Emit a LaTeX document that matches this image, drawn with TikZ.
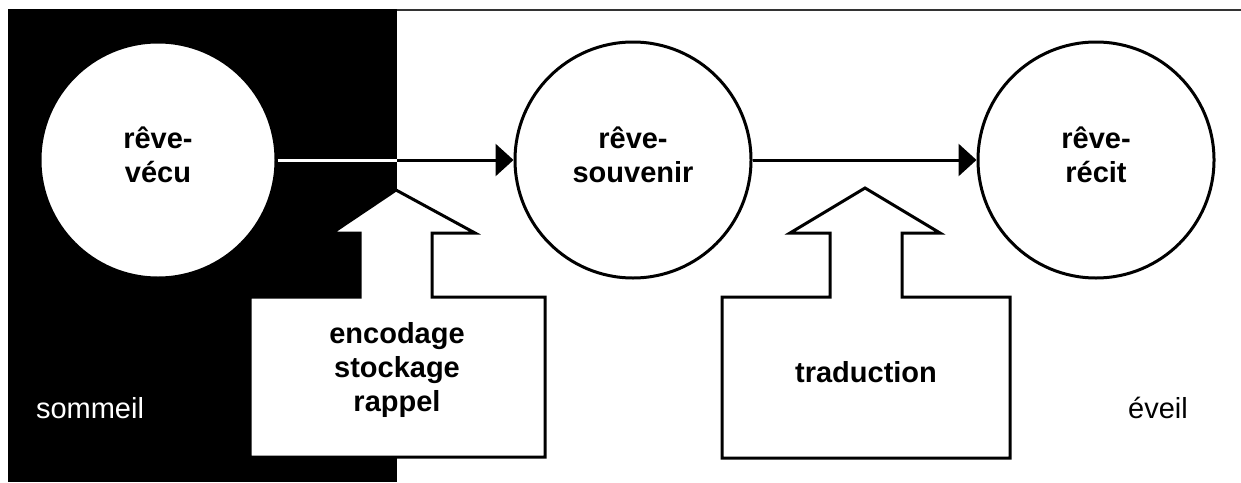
\documentclass[tikz,border=0pt]{standalone}
\usepackage{fontspec}
\setmainfont{Liberation Sans}
\usetikzlibrary{arrows.meta}
\begin{document}
\begin{tikzpicture}[x=1pt,y=-1pt,
  lbl/.style={font=\fontsize{29}{34}\selectfont\bfseries, align=center, inner sep=0pt},
  bubble/.style={circle, draw=black, line width=3pt, fill=white, minimum size=236pt, inner sep=0pt},
  blockarrow/.style={draw=black, fill=white, line width=3pt, line join=miter},
  flow/.style={line width=3pt, -{Triangle[length=18pt,width=32pt]}},
  plain/.style={font=\fontsize{29}{35}\selectfont, inner sep=0pt}]
\useasboundingbox (0,0) rectangle (1241,482);
\fill[white] (0,0) rectangle (1241,482);
% sleep zone
\fill[black] (8,9) rectangle (397,482);
\draw[black!80, line width=2pt] (397,10) -- (1241,10);
% block arrows
\draw[blockarrow] (396,190) -- (475,233) -- (432,233) -- (432,297) -- (545,297) -- (545,457)
  -- (250,457) -- (250,297) -- (360,297) -- (360,233) -- (332,233) -- cycle;
\draw[blockarrow] (865,188) -- (940,233) -- (902,233) -- (902,297) -- (1010,297) -- (1010,458)
  -- (722,458) -- (722,297) -- (830,297) -- (830,233) -- (790,233) -- cycle;
\node[lbl] (enc) at (397,370) {encodage\\stockage\\rappel};
\node[lbl] (trad) at (866,372) {traduction};
% circles
\node[bubble] (c1) at (158,160) {};
\node[bubble] (c2) at (633,160) {};
\node[bubble] (c3) at (1096,160) {};
\node[lbl] (t1) at (158,155) {rêve-\\vécu};
\node[lbl] (t2) at (633,155) {rêve-\\souvenir};
\node[lbl] (t3) at (1096,155) {rêve-\\récit};
\coordinate (split) at (397,160);
\draw[white, line width=3pt] (c1.east) -- (split);
\draw[flow] (split) -- (c2.west);
\draw[flow] (c2.east) -- (c3.west);
% zone labels
\node[plain, text=white] (sleep) at (90,408) {sommeil};
\node[plain, text=black] (wake) at (1158,408) {éveil};
\end{tikzpicture}
\end{document}
